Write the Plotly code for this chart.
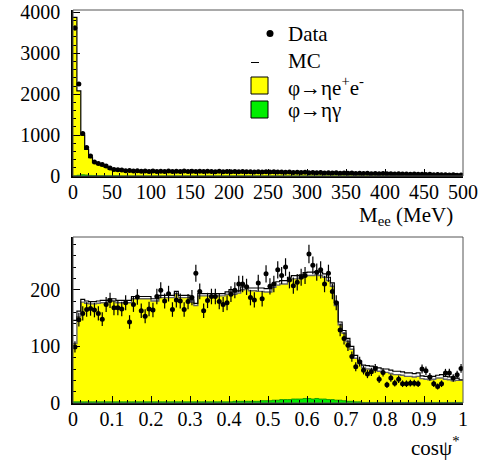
import plotly.graph_objects as go

# ---------------------------------------------------------------------------
# Histogram contents
# ---------------------------------------------------------------------------
MEE_BIN = 5.0      # MeV per bin, 0..500 MeV
COS_BIN = 0.01     # cos(psi*) per bin, 0..1

# e+e- invariant mass
mee_data = [3620, 2250, 1040, 700, 488, 345, 305, 282, 244, 195,
            160, 150, 146, 128, 133, 121, 128, 117, 124, 112,
            121, 113, 119, 110, 122, 112, 118, 109, 120, 113,
            117, 110, 119, 108, 116, 111, 107, 115, 104, 112,
            105, 110, 103, 109, 101, 107, 99, 106, 98, 104,
            96, 103, 95, 99, 92, 97, 88, 94, 86, 91,
            82, 88, 79, 86, 76, 82, 74, 79, 70, 75,
            67, 73, 64, 70, 61, 67, 58, 64, 55, 60,
            52, 58, 50, 54, 46, 51, 43, 48, 40, 44,
            36, 40, 33, 37, 29, 33, 26, 29, 21, 25]
mee_mc = [3880, 2080, 1000, 650, 450, 340, 290, 255, 210, 170,
          152, 143, 137, 132, 128, 125, 123, 121, 120, 119,
          118, 118, 117, 117, 116, 116, 116, 115, 115, 115,
          115, 114, 114, 113, 112, 112, 111, 111, 110, 109,
          108, 108, 107, 106, 106, 105, 104, 103, 102, 101,
          100, 99, 98, 97, 95, 94, 92, 90, 89, 87,
          85, 84, 82, 81, 79, 78, 76, 74, 73, 71,
          70, 69, 67, 66, 64, 63, 61, 60, 58, 57,
          55, 54, 52, 50, 49, 47, 45, 44, 42, 40,
          38, 37, 35, 33, 31, 30, 28, 26, 24, 22]
mee_etagamma = [4, 18, 30, 24, 14, 10, 8, 6, 5, 5,
                4, 4, 3, 3, 3, 3, 2, 2, 2, 2] + [1] * 80

# helicity angle
cos_data = [99, 147, 158, 165, 167, 164, 158, 148, 174, 181,
            168, 168, 166, 177, 143, 174, 187, 163, 153, 166,
            164, 188, 199, 180, 193, 165, 182, 180, 165, 179,
            186, 229, 197, 163, 181, 188, 188, 179, 174, 177,
            192, 199, 210, 210, 205, 186, 182, 212, 184, 228,
            206, 210, 235, 225, 240, 217, 207, 213, 222, 225,
            263, 243, 231, 235, 210, 229, 197, 177, 129, 114,
            102, 82, 64, 73, 58, 51, 55, 61, 42, 54,
            32, 44, 35, 42, 34, 34, 35, 35, 34, 60,
            57, 46, 34, 29, 34, 53, 53, 44, 50, 61]
cos_mc = [146, 162, 183, 180, 179, 179, 180, 181, 181, 184,
          184, 181, 181, 181, 181, 188, 188, 188, 188, 188,
          184, 184, 190, 190, 190, 190, 197, 190, 190, 190,
          182, 176, 193, 193, 193, 193, 193, 193, 193, 196,
          200, 196, 198, 205, 206, 203, 203, 203, 203, 202,
          202, 210, 214, 216, 216, 222, 225, 225, 226, 230,
          231, 231, 232, 231, 228, 222, 212, 178, 143, 128,
          114, 100, 84, 74, 67, 66, 65, 64, 62, 60,
          60, 58, 56, 56, 55, 53, 53, 52, 53, 48,
          47, 46, 47, 49, 50, 47, 46, 44, 44, 41]
cos_etaee = [105, 152, 178, 176, 175, 175, 176, 177, 177, 180,
             180, 177, 177, 177, 177, 184, 184, 184, 184, 184,
             180, 180, 186, 186, 186, 186, 193, 186, 186, 186,
             178, 172, 189, 189, 189, 189, 189, 189, 189, 192,
             196, 192, 194, 200, 201, 198, 198, 197, 197, 196,
             196, 204, 208, 210, 210, 216, 219, 219, 220, 224,
             225, 225, 226, 225, 222, 216, 206, 172, 138, 123,
             108, 95, 79, 69, 62, 60, 59, 58, 56, 54,
             54, 52, 50, 50, 49, 47, 47, 46, 47, 43,
             42, 41, 42, 44, 44, 42, 41, 39, 40, 40]
cos_etagamma = ([2] * 41 + [3, 3, 3, 3, 3, 3, 3, 4, 4, 4,
                 5, 5, 6, 6, 6, 7, 7, 7, 8, 8,
                 7, 8, 7, 7, 6, 6, 5, 5, 4, 3,
                 3, 2, 2] + [1] * 26)


def edges(n, width):
    return [i * width for i in range(n + 1)]


def step(values):
    # repeat the last content so the 'hv' step closes on the upper edge
    return list(values) + [values[-1]]


W, H = 494, 460
FONT = "Liberation Serif"


def py(p):
    return 1 - p / H


fig = go.Figure()

# ---------------- upper pad: M_ee ----------------
xm = edges(len(mee_mc), MEE_BIN)
xm_c = [(a + b) / 2 for a, b in zip(xm[:-1], xm[1:])]
fig.add_trace(go.Scatter(x=xm, y=step(mee_mc), mode="lines", line_shape="hv",
                         fill="tozeroy", fillcolor="#ffff00",
                         line=dict(color="black", width=1.2),
                         xaxis="x", yaxis="y", showlegend=False))
fig.add_trace(go.Scatter(x=xm, y=step(mee_etagamma), mode="lines", line_shape="hv",
                         fill="tozeroy", fillcolor="#00ee00",
                         line=dict(color="#008800", width=0.8),
                         xaxis="x", yaxis="y", showlegend=False))
fig.add_trace(go.Scatter(x=xm_c, y=mee_data, mode="markers",
                         marker=dict(color="black", size=5),
                         error_y=dict(type="sqrt", color="black", thickness=1.2, width=0),
                         xaxis="x", yaxis="y", showlegend=False))

# ---------------- lower pad: cos psi* ----------------
xc = edges(len(cos_mc), COS_BIN)
xc_c = [(a + b) / 2 for a, b in zip(xc[:-1], xc[1:])]
fig.add_trace(go.Scatter(x=xc, y=step(cos_etaee), mode="lines", line_shape="hv",
                         fill="tozeroy", fillcolor="#ffff00",
                         line=dict(color="#666666", width=1.4),
                         xaxis="x2", yaxis="y2", showlegend=False))
fig.add_trace(go.Scatter(x=xc, y=step(cos_etagamma), mode="lines", line_shape="hv",
                         fill="tozeroy", fillcolor="#00ee00",
                         line=dict(color="#008800", width=0.8),
                         xaxis="x2", yaxis="y2", showlegend=False))
fig.add_trace(go.Scatter(x=xc, y=step(cos_mc), mode="lines", line_shape="hv",
                         line=dict(color="black", width=1.2),
                         xaxis="x2", yaxis="y2", showlegend=False))
fig.add_trace(go.Scatter(x=xc_c, y=cos_data, mode="markers",
                         marker=dict(color="black", size=5),
                         error_y=dict(type="sqrt", color="black", thickness=1.2, width=0),
                         xaxis="x2", yaxis="y2", showlegend=False))

tickfont = dict(family=FONT, size=20, color="black")
common = dict(showgrid=False, zeroline=False, showline=True, linecolor="black",
              linewidth=1.5, ticks="inside", tickcolor="black", tickwidth=1,
              tickfont=tickfont, automargin=False)
xcommon = dict(common, ticklabelstandoff=-3)
ycommon = dict(common, ticklabelstandoff=7)

fig.update_layout(
    width=W, height=H,
    font=dict(family=FONT, color="black"),
    margin=dict(l=0, r=0, t=0, b=0, autoexpand=False),
    paper_bgcolor="white", plot_bgcolor="white",
    xaxis=dict(xcommon, domain=[73 / W, 463 / W], anchor="y", range=[0, 500],
               dtick=50, tick0=0, ticklen=7,
               minor=dict(dtick=10, ticklen=3.5, ticks="inside", tickcolor="black")),
    yaxis=dict(ycommon, domain=[py(176), py(10)], anchor="x", range=[0, 4060],
               dtick=1000, tick0=0, ticklen=7, tickformat="d",
               minor=dict(dtick=200, ticklen=3.5, ticks="inside", tickcolor="black")),
    xaxis2=dict(xcommon, domain=[73 / W, 463 / W], anchor="y2", range=[0, 1],
                dtick=0.1, tick0=0, ticklen=7,
                minor=dict(dtick=0.02, ticklen=3.5, ticks="inside", tickcolor="black")),
    yaxis2=dict(ycommon, domain=[py(403), py(237)], anchor="x2", range=[0, 293],
                dtick=100, tick0=0, ticklen=7, tickformat="d",
                minor=dict(dtick=20, ticklen=3.5, ticks="inside", tickcolor="black")),
)

shapes = []
# pad frames
for xr, yr in (("x", "y"), ("x2", "y2")):
    shapes.append(dict(type="rect", xref=xr + " domain", yref=yr + " domain",
                       x0=0, x1=1, y0=0, y1=1, line=dict(color="#555555", width=1)))

# legend symbols
def box(x0, y0, x1, y1, color):
    return dict(type="rect", xref="paper", yref="paper",
                x0=x0 / W, x1=x1 / W, y0=py(y1), y1=py(y0),
                fillcolor=color, line=dict(color="black", width=1))

shapes.append(dict(type="circle", xref="paper", yref="paper",
                   x0=266.5 / W, x1=273.5 / W, y0=py(37), y1=py(30),
                   fillcolor="black", line=dict(color="black", width=0)))
shapes.append(dict(type="line", xref="paper", yref="paper",
                   x0=251 / W, x1=259 / W, y0=py(62.5), y1=py(62.5),
                   line=dict(color="black", width=1)))
shapes.append(box(251, 77, 268, 94, "#ffff00"))
shapes.append(box(251, 101, 268, 118, "#00ee00"))

legfont = dict(family=FONT, size=21, color="black")
annotations = [
    dict(text="Data", x=286 / W, y=py(34)),
    dict(text="MC", x=286 / W, y=py(61)),
    dict(text="\u03c6\u2192\u03b7e<sup>+</sup>e<sup>-</sup>", x=286 / W, y=py(86)),
    dict(text="\u03c6\u2192\u03b7\u03b3", x=286 / W, y=py(110)),
]
for a in annotations:
    a.update(xref="paper", yref="paper", xanchor="left", yanchor="middle",
             showarrow=False, font=legfont)

annotations.append(dict(text="M<sub>ee</sub> (MeV)", x=455 / W, y=py(216),
                        xref="paper", yref="paper", xanchor="right", yanchor="middle",
                        showarrow=False, font=legfont))
annotations.append(dict(text="cos\u03c8<sup>*</sup>", x=461 / W, y=py(446),
                        xref="paper", yref="paper", xanchor="right", yanchor="middle",
                        showarrow=False, font=legfont))

fig.update_layout(shapes=shapes, annotations=annotations)

fig.write_html("out.html")
